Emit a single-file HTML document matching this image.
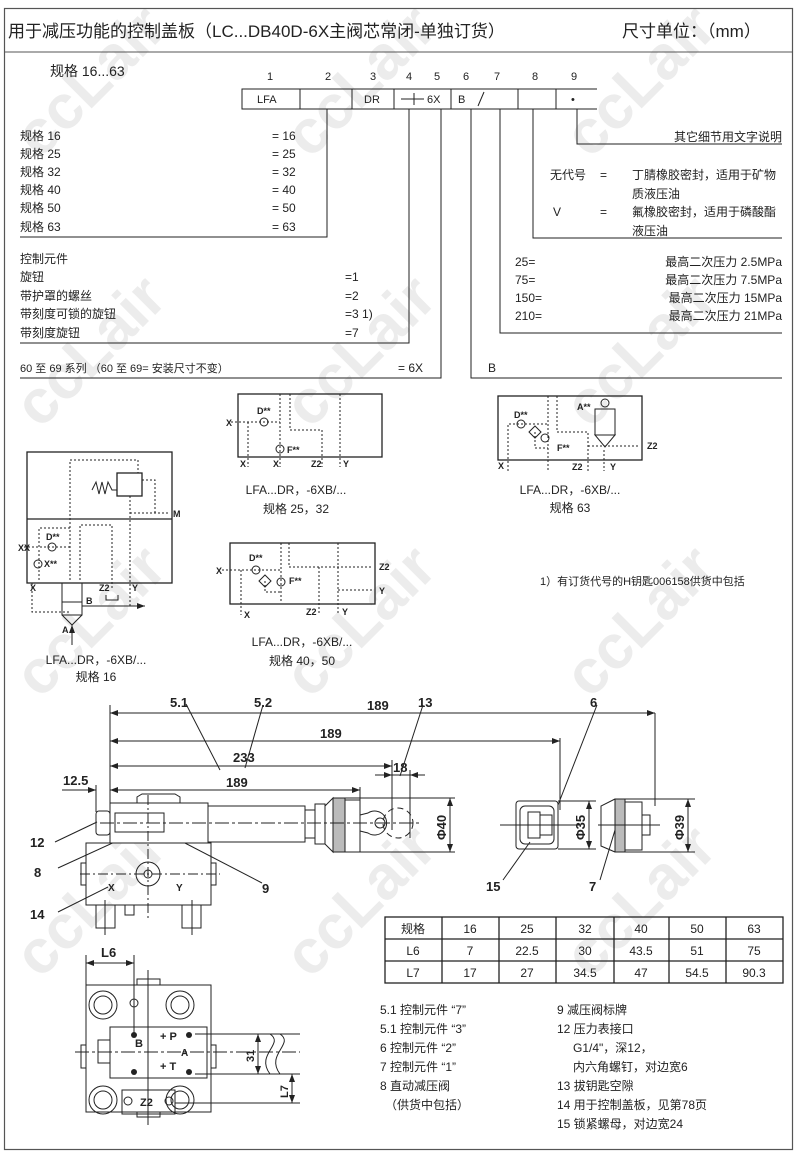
<!DOCTYPE html>
<html><head><meta charset="utf-8">
<style>
html,body{margin:0;padding:0;background:#fff;}
svg{display:block;}
text{font-family:"Liberation Sans","Noto Sans CJK SC",sans-serif;fill:#222;}
.s{font-size:12px;}
.t{font-size:11px;}
.serif{font-family:"Liberation Serif","Noto Serif CJK SC",serif;font-weight:bold;}
.wm{font-family:"Liberation Sans",sans-serif;font-weight:bold;font-size:62px;fill:#ececec;}
</style></head>
<body>
<svg width="800" height="1158" viewBox="0 0 800 1158" xmlns="http://www.w3.org/2000/svg">
<defs>
<marker id="ar" markerWidth="8" markerHeight="6" refX="8" refY="3" orient="auto-start-reverse" markerUnits="userSpaceOnUse"><path d="M0,0 L8,3 L0,6 z" fill="#222"/></marker>
</defs>
<!-- watermarks -->
<g>
<text class="wm" transform="translate(40,430) rotate(-45)">ccLair</text>
<text class="wm" transform="translate(310,430) rotate(-45)">ccLair</text>
<text class="wm" transform="translate(590,430) rotate(-45)">ccLair</text>
<text class="wm" transform="translate(40,700) rotate(-45)">ccLair</text>
<text class="wm" transform="translate(310,700) rotate(-45)">ccLair</text>
<text class="wm" transform="translate(590,700) rotate(-45)">ccLair</text>
<text class="wm" transform="translate(40,980) rotate(-45)">ccLair</text>
<text class="wm" transform="translate(310,980) rotate(-45)">ccLair</text>
<text class="wm" transform="translate(590,980) rotate(-45)">ccLair</text>
<text class="wm" transform="translate(310,160) rotate(-45)">ccLair</text>
<text class="wm" transform="translate(590,160) rotate(-45)">ccLair</text>
<text class="wm" transform="translate(40,160) rotate(-45)">ccLair</text>
</g>

<!-- frame -->
<rect x="4.5" y="8.5" width="788" height="1141" fill="none" stroke="#555" stroke-width="1.2"/>
<line x1="4" y1="52" x2="793" y2="52" stroke="#555" stroke-width="1"/>
<text x="8" y="37" style="font-size:17px">用于减压功能的控制盖板（LC...DB40D-6X主阀芯常闭-单独订货）</text>
<text x="622" y="37" style="font-size:17px">尺寸单位：（mm）</text>

<!-- order code -->
<text x="50" y="76" style="font-size:14px">规格 16...63</text>
<g class="t" text-anchor="middle">
<text x="270" y="80">1</text><text x="328" y="80">2</text><text x="373" y="80">3</text><text x="409" y="80">4</text><text x="437" y="80">5</text><text x="466" y="80">6</text><text x="497" y="80">7</text><text x="535" y="80">8</text><text x="574" y="80">9</text>
</g>
<g stroke="#222" stroke-width="1" fill="none">
<path d="M597,89 H242 V109 H597"/>
<line x1="300" y1="89" x2="300" y2="109"/><line x1="352" y1="89" x2="352" y2="109"/><line x1="394" y1="89" x2="394" y2="109"/><line x1="451" y1="89" x2="451" y2="109"/><line x1="518" y1="89" x2="518" y2="109"/><line x1="556" y1="89" x2="556" y2="109"/>
<line x1="401" y1="99" x2="424" y2="99"/><line x1="414" y1="93" x2="414" y2="105"/>
<line x1="478" y1="106" x2="484" y2="92"/>
<!-- leaders -->
<path d="M327,109 V237 H20"/>
<path d="M409,109 V343 H20"/>
<path d="M441,109 V378 H20"/>
<path d="M471,109 V378 H782"/>
<path d="M500,109 V333 H782"/>
<path d="M533,109 V238 H782"/>
<path d="M577,109 V144 H782"/>
</g>
<g class="t">
<text x="257" y="103">LFA</text><text x="364" y="103">DR</text><text x="427" y="103">6X</text><text x="458" y="103">B</text><text x="571" y="103">•</text>
</g>
<g class="s">
<text x="20" y="140">规格 16</text><text x="272" y="140">= 16</text>
<text x="20" y="158">规格 25</text><text x="272" y="158">= 25</text>
<text x="20" y="176">规格 32</text><text x="272" y="176">= 32</text>
<text x="20" y="194">规格 40</text><text x="272" y="194">= 40</text>
<text x="20" y="212">规格 50</text><text x="272" y="212">= 50</text>
<text x="20" y="231">规格 63</text><text x="272" y="231">= 63</text>
<text x="20" y="263">控制元件</text>
<text x="20" y="281">旋钮</text><text x="345" y="281">=1</text>
<text x="20" y="300">带护罩的螺丝</text><text x="345" y="300">=2</text>
<text x="20" y="318">带刻度可锁的旋钮</text><text x="345" y="318">=3 1)</text>
<text x="20" y="337">带刻度旋钮</text><text x="345" y="337">=7</text>
<text x="20" y="372" style="font-size:11px">60 至 69 系列 （60 至 69= 安装尺寸不变）</text><text x="398" y="372">= 6X</text>
<text x="488" y="372">B</text>
<text x="782" y="141" text-anchor="end">其它细节用文字说明</text>
<text x="550" y="179">无代号</text><text x="600" y="179">=</text><text x="632" y="179">丁腈橡胶密封，适用于矿物</text>
<text x="632" y="198">质液压油</text>
<text x="553" y="216">V</text><text x="600" y="216">=</text><text x="632" y="216">氟橡胶密封，适用于磷酸酯</text>
<text x="632" y="235">液压油</text>
<text x="515" y="266">25=</text><text x="782" y="266" text-anchor="end">最高二次压力 2.5MPa</text>
<text x="515" y="284">75=</text><text x="782" y="284" text-anchor="end">最高二次压力 7.5MPa</text>
<text x="515" y="302">150=</text><text x="782" y="302" text-anchor="end">最高二次压力 15MPa</text>
<text x="515" y="320">210=</text><text x="782" y="320" text-anchor="end">最高二次压力 21MPa</text>
</g>

<!-- schematics -->
<g stroke="#222" fill="none">
<!-- 25/32 -->
<rect x="238" y="394" width="144" height="63" stroke-width="1.3"/>
<g stroke-dasharray="2,2" stroke-width="1">
<path d="M231,422 H280"/><path d="M248,422 V467"/><path d="M280,394 V467"/><path d="M290,394 V430 H322 V467"/><path d="M340,394 V467"/><path d="M280,422 V450"/>
</g>
<circle cx="264" cy="422" r="4"/><circle cx="280" cy="449" r="4"/>
<!-- 63 -->
<rect x="498" y="396" width="144" height="64" stroke-width="1.3"/>
<g stroke-dasharray="2,2" stroke-width="1">
<path d="M508,471 V424 H548"/><path d="M548,396 V471"/><path d="M557,396 V432 H588 V471"/><path d="M588,446 H640"/><path d="M535,432 V448 H548"/><path d="M604,450 V471"/>
</g>
<circle cx="521" cy="424" r="4"/><circle cx="545" cy="438" r="4"/>
<path d="M535,426 l6,6 l-6,6 l-6,-6 z"/>
<rect x="595" y="409" width="20" height="26"/><path d="M595,435 H615 L605,447 Z"/><circle cx="605" cy="403" r="4"/>
<!-- 40/50 -->
<rect x="230" y="543" width="145" height="61" stroke-width="1.3"/>
<g stroke-dasharray="2,2" stroke-width="1">
<path d="M222,570 H281"/><path d="M241,570 V615"/><path d="M281,543 V601"/><path d="M289,543 V567 H372"/><path d="M319,567 V615"/><path d="M338,543 V615"/><path d="M338,590 H372"/><path d="M265,581 V592 H281"/>
</g>
<circle cx="256" cy="570" r="4"/><circle cx="281" cy="582" r="4"/>
<path d="M265,575 l6,6 l-6,6 l-6,-6 z"/>
<!-- 16 -->
<rect x="27" y="452" width="145" height="131" stroke-width="1.3"/>
<line x1="27" y1="519" x2="172" y2="519" stroke-width="1.2"/>
<g stroke-dasharray="2,2" stroke-width="1">
<path d="M70,580 V460 H138 V473"/><path d="M80,580 V525 H112 V590"/><path d="M130,496 V606"/><path d="M130,513 H170"/><path d="M142,480 H155 V513"/><path d="M39,580 V548"/><path d="M20,547 H70"/><path d="M39,547 V528 H70"/><path d="M32,583 V612 H71"/>
</g>
<circle cx="52" cy="547" r="4"/><circle cx="38" cy="564" r="4"/>
<rect x="117" y="473" width="25" height="23" stroke-width="1.3"/>
<path d="M92,490 l4,-8 l3,12 l3,-12 l3,12 l3,-12 l4,8 h5"/>
<rect x="62" y="583" width="20" height="32"/><line x1="62" y1="602" x2="82" y2="602"/><path d="M62,615 L72,625 L82,615"/>
<path d="M72,625 V645" marker-start="url(#ar)"/>
<path d="M82,606 H145" marker-end="url(#ar)"/>
<path d="M106,595 V600 H118 V595"/>
</g>
<g class="serif" style="font-size:9px">
<text x="257" y="414">D**</text><text x="287" y="453">F**</text><text x="226" y="426">X</text><text x="240" y="467">X</text><text x="273" y="467">X</text><text x="311" y="467">Z2</text><text x="343" y="467">Y</text>
<text x="514" y="418">D**</text><text x="577" y="410">A**</text><text x="557" y="451">F**</text><text x="647" y="449">Z2</text><text x="498" y="469">X</text><text x="572" y="470">Z2</text><text x="610" y="470">Y</text>
<text x="249" y="561">D**</text><text x="289" y="584">F**</text><text x="216" y="574">X</text><text x="379" y="570">Z2</text><text x="379" y="594">Y</text><text x="244" y="618">X</text><text x="306" y="615">Z2</text><text x="342" y="615">Y</text>
<text x="46" y="540">D**</text><text x="44" y="567">X**</text><text x="18" y="551">XX</text><text x="173" y="517">M</text><text x="30" y="591">X</text><text x="132" y="591">Y</text><text x="99" y="591">Z2</text><text x="86" y="604">B</text><text x="62" y="633">A</text>
</g>
<g class="s" text-anchor="middle">
<text x="296" y="494">LFA...DR，-6XB/...</text><text x="296" y="513">规格 25，32</text>
<text x="570" y="494">LFA...DR，-6XB/...</text><text x="570" y="512">规格 63</text>
<text x="302" y="646">LFA...DR，-6XB/...</text><text x="302" y="665">规格 40，50</text>
<text x="96" y="664">LFA...DR，-6XB/...</text><text x="96" y="681">规格 16</text>
</g>
<text x="540" y="585" class="t">1）有订货代号的H钥匙006158供货中包括</text>

<!-- mechanical drawing -->
<g stroke="#222" fill="none" stroke-width="1">
<line x1="110" y1="705" x2="110" y2="843"/>
<line x1="655" y1="713" x2="655" y2="806"/>
<line x1="560" y1="738" x2="560" y2="810"/>
<line x1="392" y1="760" x2="392" y2="830"/>
<line x1="410" y1="770" x2="410" y2="838"/>
<line x1="360" y1="787" x2="360" y2="800"/>
<line x1="110" y1="713" x2="655" y2="713" marker-start="url(#ar)" marker-end="url(#ar)"/>
<line x1="110" y1="741" x2="560" y2="741" marker-start="url(#ar)" marker-end="url(#ar)"/>
<line x1="110" y1="766" x2="392" y2="766" marker-start="url(#ar)" marker-end="url(#ar)"/>
<line x1="110" y1="790" x2="360" y2="790" marker-start="url(#ar)" marker-end="url(#ar)"/>
<line x1="375" y1="775" x2="392" y2="775" marker-end="url(#ar)"/><line x1="425" y1="775" x2="410" y2="775" marker-end="url(#ar)"/><line x1="392" y1="775" x2="410" y2="775"/>
<line x1="62" y1="790" x2="96" y2="790" marker-end="url(#ar)"/><line x1="96" y1="785" x2="96" y2="812"/><line x1="110" y1="790" x2="125" y2="790"/>
<!-- leaders -->
<line x1="186" y1="704" x2="220" y2="770"/><line x1="263" y1="705" x2="245" y2="768"/><line x1="423" y1="705" x2="400" y2="776"/><line x1="597" y1="705" x2="558" y2="805"/>
<line x1="55" y1="842" x2="97" y2="822"/><line x1="58" y1="868" x2="128" y2="836"/><line x1="58" y1="912" x2="108" y2="887"/><line x1="262" y1="883" x2="154" y2="827"/>
<line x1="503" y1="880" x2="530" y2="842"/><line x1="600" y1="880" x2="615" y2="830"/>
<!-- body -->
<rect x="110" y="803" width="98" height="40" fill="#fff"/>
<path d="M137,803 V797 L142,794 H175 L180,797 V803"/>
<rect x="115" y="813" width="49" height="19"/>
<rect x="96" y="811" width="14" height="24" rx="3"/>
<rect x="86" y="843" width="125" height="62"/>
<rect x="81" y="863" width="5" height="22"/><rect x="211" y="863" width="5" height="22"/>
<circle cx="148" cy="874" r="12"/><circle cx="148" cy="874" r="4"/>
<rect x="96" y="905" width="19" height="23"/><rect x="182" y="905" width="19" height="23"/><rect x="125" y="905" width="9" height="10"/>
<line x1="148" y1="795" x2="148" y2="920" stroke-dasharray="10,3,2,3"/>
<line x1="80" y1="874" x2="220" y2="874" stroke-dasharray="10,3,2,3"/>
<line x1="105" y1="900" x2="105" y2="935"/><line x1="192" y1="900" x2="192" y2="935"/>
<!-- tube -->
<rect x="208" y="806" width="97" height="36"/>
<rect x="305" y="810" width="10" height="28"/>
<rect x="315" y="804" width="10" height="40"/>
<path d="M325,806 L333,798 V852 L325,844"/>
<rect x="333" y="798" width="12" height="54" fill="#bbb"/>
<rect x="345" y="800" width="15" height="52"/>
<path d="M360,815 L368,813 A12,12 0 1 1 368,833 L360,831"/>
<circle cx="380" cy="823" r="5"/>
<circle cx="398" cy="823" r="15" stroke-dasharray="6,4"/>
<line x1="100" y1="823" x2="420" y2="823" stroke-dasharray="14,3,3,3"/>
<line x1="345" y1="798" x2="455" y2="798"/><line x1="360" y1="852" x2="455" y2="852"/>
<line x1="450" y1="798" x2="450" y2="852" marker-start="url(#ar)" marker-end="url(#ar)"/>
<!-- part 6 -->
<rect x="516" y="801" width="42" height="48" rx="3"/>
<rect x="520" y="806" width="34" height="38" rx="5"/>
<rect x="528" y="812" width="12" height="26"/><rect x="540" y="815" width="12" height="20"/>
<line x1="500" y1="825" x2="580" y2="825"/>
<line x1="558" y1="801" x2="596" y2="801"/><line x1="558" y1="849" x2="596" y2="849"/>
<line x1="589" y1="801" x2="589" y2="849" marker-start="url(#ar)" marker-end="url(#ar)"/>
<!-- part 7 -->
<path d="M615,799 L601,806 V846 L615,852"/>
<rect x="615" y="799" width="10" height="53" fill="#bbb"/>
<rect x="625" y="802" width="17" height="48"/>
<rect x="642" y="815" width="8" height="20"/>
<line x1="598" y1="825" x2="660" y2="825"/>
<line x1="625" y1="799" x2="695" y2="799"/><line x1="625" y1="852" x2="695" y2="852"/>
<line x1="688" y1="799" x2="688" y2="852" marker-start="url(#ar)" marker-end="url(#ar)"/>
<!-- bottom drawing -->
<rect x="86" y="985" width="125" height="127"/>
<rect x="137" y="979" width="23" height="6"/><rect x="137" y="1112" width="23" height="5"/>
<circle cx="103" cy="1005" r="14"/><circle cx="103" cy="1005" r="9"/>
<circle cx="180" cy="1005" r="14"/><circle cx="180" cy="1005" r="9"/>
<circle cx="103" cy="1100" r="14"/><circle cx="103" cy="1100" r="9"/>
<circle cx="180" cy="1100" r="14"/><circle cx="180" cy="1100" r="9"/>
<circle cx="134" cy="1003" r="4"/>
<rect x="110" y="1027" width="97" height="51"/>
<rect x="98" y="1040" width="12" height="23"/>
<rect x="81" y="1045" width="5" height="23"/><rect x="211" y="1045" width="5" height="23"/>
<rect x="122" y="1090" width="53" height="24"/>
<circle cx="128" cy="1101" r="4"/><circle cx="169" cy="1101" r="4"/>
<line x1="148" y1="970" x2="148" y2="1125"/>
<line x1="75" y1="1052" x2="300" y2="1052" stroke-dasharray="14,3,3,3"/>
<line x1="86" y1="955" x2="86" y2="985"/><line x1="134" y1="955" x2="134" y2="1035"/>
<line x1="86" y1="963" x2="134" y2="963" marker-start="url(#ar)" marker-end="url(#ar)"/>
<line x1="195" y1="1034" x2="300" y2="1034"/><line x1="195" y1="1074" x2="300" y2="1074"/><line x1="175" y1="1103" x2="300" y2="1103"/>
<line x1="258" y1="1034" x2="258" y2="1074" marker-start="url(#ar)" marker-end="url(#ar)"/>
<line x1="292" y1="1074" x2="292" y2="1103" marker-start="url(#ar)" marker-end="url(#ar)"/>
<path d="M270,1034 C285,1044 255,1054 270,1074 M280,1034 C295,1044 265,1054 280,1074"/>
</g>
<g fill="#222">
<circle cx="134" cy="1035" r="3"/><circle cx="189" cy="1035" r="3"/><circle cx="134" cy="1072" r="3"/><circle cx="189" cy="1072" r="3"/>
</g>
<g class="serif" style="font-size:13px">
<text x="170" y="707">5.1</text><text x="254" y="707">5.2</text><text x="367" y="710">189</text><text x="418" y="707">13</text>
<text x="320" y="738">189</text><text x="233" y="762">233</text><text x="393" y="772">18</text><text x="226" y="787">189</text>
<text x="63" y="785">12.5</text><text x="590" y="707">6</text>
<text x="30" y="847">12</text><text x="34" y="877">8</text><text x="30" y="919">14</text><text x="262" y="893">9</text>
<text x="486" y="891">15</text><text x="589" y="891">7</text>
<text x="101" y="957">L6</text>
<text x="108" y="891" style="font-size:10px">X</text><text x="176" y="891" style="font-size:10px">Y</text>
<text x="135" y="1047" style="font-size:11px">B</text><text x="160" y="1040" style="font-size:11px">+ P</text><text x="160" y="1070" style="font-size:11px">+ T</text><text x="181" y="1056" style="font-size:10px">A</text><text x="140" y="1106" style="font-size:11px">Z2</text>
<text transform="translate(446,840) rotate(-90)">Φ40</text>
<text transform="translate(585,840) rotate(-90)">Φ35</text>
<text transform="translate(684,840) rotate(-90)">Φ39</text>
<text transform="translate(254,1062) rotate(-90)" style="font-size:11px">31</text>
<text transform="translate(288,1098) rotate(-90)" style="font-size:11px">L7</text>
</g>

<!-- table -->
<g stroke="#222" stroke-width="1.3" fill="none">
<rect x="385" y="917" width="398" height="66"/>
<line x1="385" y1="939" x2="783" y2="939"/><line x1="385" y1="961" x2="783" y2="961"/>
<line x1="442" y1="917" x2="442" y2="983"/><line x1="499" y1="917" x2="499" y2="983"/><line x1="556" y1="917" x2="556" y2="983"/><line x1="614" y1="917" x2="614" y2="983"/><line x1="669" y1="917" x2="669" y2="983"/><line x1="726" y1="917" x2="726" y2="983"/>
</g>
<g class="s" text-anchor="middle">
<text x="413" y="933">规格</text><text x="470" y="933">16</text><text x="527" y="933">25</text><text x="585" y="933">32</text><text x="641" y="933">40</text><text x="697" y="933">50</text><text x="754" y="933">63</text>
<text x="413" y="955">L6</text><text x="470" y="955">7</text><text x="527" y="955">22.5</text><text x="585" y="955">30</text><text x="641" y="955">43.5</text><text x="697" y="955">51</text><text x="754" y="955">75</text>
<text x="413" y="977">L7</text><text x="470" y="977">17</text><text x="527" y="977">27</text><text x="585" y="977">34.5</text><text x="641" y="977">47</text><text x="697" y="977">54.5</text><text x="754" y="977">90.3</text>
</g>
<g class="s">
<text x="380" y="1014">5.1 控制元件 “7”</text>
<text x="380" y="1033">5.1 控制元件 “3”</text>
<text x="380" y="1052">6 控制元件 “2”</text>
<text x="380" y="1071">7 控制元件 “1”</text>
<text x="380" y="1090">8 直动减压阀</text>
<text x="385" y="1109">（供货中包括）</text>
<text x="557" y="1014">9 减压阀标牌</text>
<text x="557" y="1033">12 压力表接口</text>
<text x="573" y="1052">G1/4"，深12，</text>
<text x="573" y="1071">内六角螺钉，对边宽6</text>
<text x="557" y="1090">13 拔钥匙空隙</text>
<text x="557" y="1109">14 用于控制盖板，见第78页</text>
<text x="557" y="1128">15 锁紧螺母，对边宽24</text>
</g>
</svg>
</body></html>
